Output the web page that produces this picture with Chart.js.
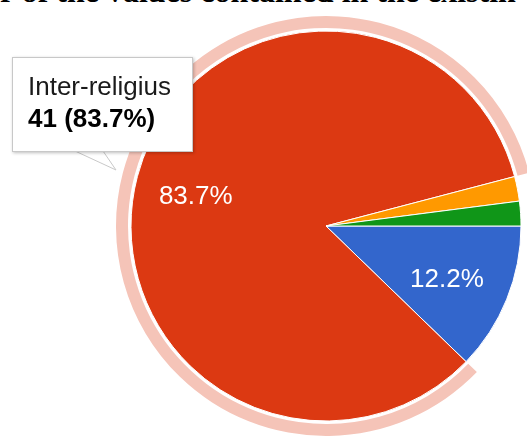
<!DOCTYPE html>
<html>
<head>
<meta charset="utf-8">
<script src="https://cdn.jsdelivr.net/npm/chart.js@4.4.1/dist/chart.umd.min.js"></script>
<style>
  html, body { margin: 0; padding: 0; background: #fff; overflow: hidden; }
  body { width: 527px; height: 440px; position: relative; }
  #caption {
    position: absolute; left: 0px; top: -25px; white-space: nowrap;
    font-family: "Liberation Serif", "DejaVu Serif", serif; font-weight: bold;
    font-size: 32px; color: #000; line-height: 32px;
  }
  #pie-wrap { position: absolute; left: 106px; top: 6px; width: 440px; height: 440px; }
  #tip {
    position: absolute; left: 12px; top: 57px; width: 181px; height: 95px;
    background: #fff; border: 1px solid #c8c8c8; box-shadow: 1px 1px 3px rgba(0,0,0,0.25);
    font-family: "Liberation Sans", Arial, sans-serif; font-size: 26px; color: #1a1a1a;
    box-sizing: border-box; padding: 12px 0 0 15px; line-height: 32px;
  }
  #tip b { font-weight: bold; color: #000; }
  #tail { position: absolute; left: 0; top: 0; }
</style>
</head>
<body>
<div id="caption">r of the values contained in the existin</div>
<div id="pie-wrap"><canvas id="pie"></canvas></div>
<svg id="tail" width="200" height="200"></svg>
<div id="tip"></div>
<script>
// categories and counts (clockwise from 3 o'clock)
const categories = ['Intra-religius', 'Inter-religius', 'Lainnya', 'Tidak tahu'];
const counts = [6, 41, 1, 1];
const sliceColors = ['#3366cc', '#dc3912', '#ff9900', '#109618'];
const highlighted = 1; // slice shown with hover ring + tooltip

const total = counts.reduce((a, b) => a + b, 0);
const pct = v => (v / total * 100).toFixed(1) + '%';

// labels inside the slices, like google charts
const sliceLabels = {
  id: 'sliceLabels',
  afterDatasetsDraw(chart) {
    const meta = chart.getDatasetMeta(2);
    const ctx = chart.ctx;
    ctx.save();
    ctx.fillStyle = '#fff';
    ctx.font = '26px "Liberation Sans", Arial, sans-serif';
    ctx.textAlign = 'center';
    ctx.textBaseline = 'middle';
    meta.data.forEach((arc, i) => {
      if (counts[i] / total < 0.05) return;
      const mid = (arc.startAngle + arc.endAngle) / 2;
      const r = arc.outerRadius * 0.68;
      ctx.fillText(pct(counts[i]), arc.x + Math.cos(mid) * r - 2, arc.y + Math.sin(mid) * r + 4);
    });
    ctx.restore();
  }
};

const ringColors = counts.map((v, i) => i === highlighted ? '#f5c4b8' : 'rgba(0,0,0,0)');

new Chart(document.getElementById('pie'), {
  type: 'doughnut',
  data: {
    labels: categories,
    datasets: [
      { data: counts, backgroundColor: ringColors, borderWidth: 0, weight: 12 },
      { data: counts, backgroundColor: 'rgba(0,0,0,0)', borderWidth: 0, weight: 3 },
      { data: counts, backgroundColor: sliceColors, borderColor: '#fff', borderWidth: 1, weight: 195 }
    ]
  },
  options: {
    responsive: true,
    maintainAspectRatio: false,
    animation: false,
    rotation: 90,
    cutout: 0,
    hoverOffset: 0,
    layout: { padding: 10 },
    events: [],
    plugins: {
      legend: { display: false },
      tooltip: { enabled: false }
    }
  },
  plugins: [sliceLabels]
});

// static tooltip for the highlighted slice
document.getElementById('tip').innerHTML =
  categories[highlighted] + '<br><b>' + counts[highlighted] + ' (' + pct(counts[highlighted]) + ')</b>';
document.getElementById('tail').innerHTML =
  '<polygon points="75,151 103,151 116,170" fill="#fff" stroke="#c8c8c8" stroke-width="1"/>';
</script>
</body>
</html>
